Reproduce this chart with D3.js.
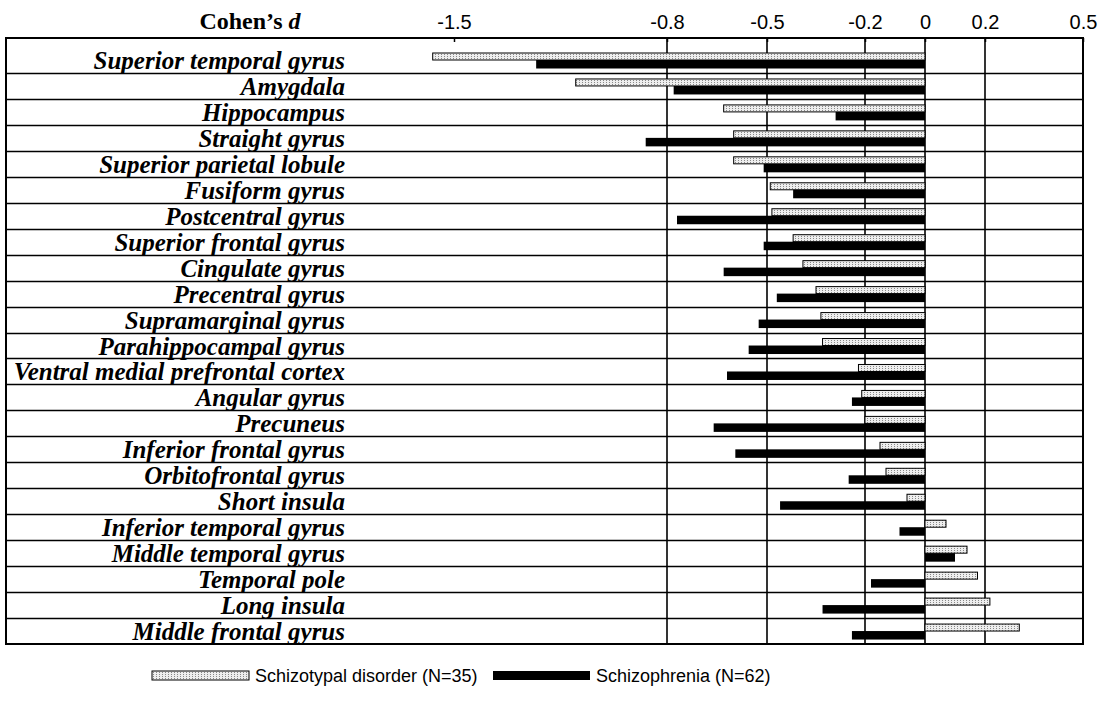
<!DOCTYPE html>
<html>
<head>
<meta charset="utf-8">
<script src="https://cdn.jsdelivr.net/npm/d3@7"></script>
<style>
  body { margin: 0; background: #fff; }
</style>
</head>
<body>
<div id="chart"></div>
<script>
// brain regions, top to bottom
const regions = [
  "Superior temporal gyrus", "Amygdala", "Hippocampus", "Straight gyrus",
  "Superior parietal lobule", "Fusiform gyrus", "Postcentral gyrus",
  "Superior frontal gyrus", "Cingulate gyrus", "Precentral gyrus",
  "Supramarginal gyrus", "Parahippocampal gyrus", "Ventral medial prefrontal cortex",
  "Angular gyrus", "Precuneus", "Inferior frontal gyrus", "Orbitofrontal gyrus",
  "Short insula", "Inferior temporal gyrus", "Middle temporal gyrus",
  "Temporal pole", "Long insula", "Middle frontal gyrus"
];

// Cohen's d per region
const schizotypal = [
  -1.57, -1.10, -0.63, -0.60, -0.60, -0.49, -0.485, -0.42, -0.39, -0.35, -0.335, -0.33,
  -0.22, -0.21, -0.20, -0.15, -0.13, -0.06, 0.07, 0.14, 0.175, 0.215, 0.305
];
const schizophrenia = [
  -1.23, -0.78, -0.29, -0.87, -0.51, -0.42, -0.77, -0.51, -0.63, -0.47, -0.525, -0.555,
  -0.62, -0.24, -0.66, -0.595, -0.25, -0.46, -0.085, 0.10, -0.18, -0.33, -0.24
];

const tickValues = [-1.5, -0.8, -0.5, -0.2, 0, 0.2, 0.5];
const tickLabels = ["-1.5", "-0.8", "-0.5", "-0.2", "0", "0.2", "0.5"];
const gridValues = [-0.8, -0.5, -0.2, 0, 0.2];
const seriesNames = ["Schizotypal disorder (N=35)", "Schizophrenia (N=62)"];

const width = 1113, height = 702;
const box = { left: 6, right: 1083, top: 38, bottom: 644 };
const serif = '"Liberation Serif", "Times New Roman", serif';
const sans = '"Liberation Sans", Arial, sans-serif';

const svg = d3.select('#chart').append('svg')
  .attr('width', width)
  .attr('height', height);

// light speckled fill for the schizotypal bars
const pat = svg.append('defs').append('pattern')
  .attr('id', 'speckle')
  .attr('width', 3).attr('height', 2)
  .attr('patternUnits', 'userSpaceOnUse');
pat.append('rect').attr('width', 3).attr('height', 2).attr('fill', '#eeeeee');
pat.append('rect').attr('width', 1).attr('height', 1).attr('fill', '#888');

// the printed axis is not evenly spaced, so the scale goes through each tick
const x = d3.scaleLinear()
  .domain(tickValues)
  .range([454, 667, 767, 865, 925, 985, 1083]);

const y = d3.scaleBand()
  .domain(regions)
  .range([47, box.bottom]);

// row separators
svg.append('g').selectAll('line')
  .data(regions.slice(1))
  .enter()
  .append('line')
  .attr('x1', box.left).attr('x2', box.right)
  .attr('y1', d => Math.round(y(d)) + 0.5)
  .attr('y2', d => Math.round(y(d)) + 0.5)
  .attr('stroke', '#000')
  .attr('stroke-width', 1.6);

// vertical grid lines
svg.append('g').selectAll('line')
  .data(gridValues)
  .enter()
  .append('line')
  .attr('x1', d => x(d)).attr('x2', d => x(d))
  .attr('y1', box.top).attr('y2', box.bottom)
  .attr('stroke', '#000')
  .attr('stroke-width', 1.6);

// bars
const rows = regions.map((r, i) => ({ name: r, a: schizotypal[i], b: schizophrenia[i] }));

svg.append('g').selectAll('rect')
  .data(rows)
  .enter()
  .append('rect')
  .attr('x', d => x(Math.min(0, d.a)))
  .attr('y', d => y(d.name) + 6)
  .attr('width', d => Math.abs(x(d.a) - x(0)))
  .attr('height', 7)
  .attr('fill', 'url(#speckle)')
  .attr('stroke', '#000')
  .attr('stroke-width', 1);

svg.append('g').selectAll('rect')
  .data(rows)
  .enter()
  .append('rect')
  .attr('x', d => x(Math.min(0, d.b)))
  .attr('y', d => y(d.name) + 13)
  .attr('width', d => Math.abs(x(d.b) - x(0)))
  .attr('height', 8.5)
  .attr('fill', '#000');

// outer box
svg.append('rect')
  .attr('x', box.left).attr('y', box.top)
  .attr('width', box.right - box.left)
  .attr('height', box.bottom - box.top)
  .attr('fill', 'none')
  .attr('stroke', '#000')
  .attr('stroke-width', 2);

// top axis
const xAxis = svg.append('g')
  .attr('transform', 'translate(0,' + box.top + ')')
  .call(d3.axisTop(x).tickValues(tickValues).tickSize(-4).tickPadding(9)
    .tickFormat((d, i) => tickLabels[i]));
xAxis.select('.domain').remove();
xAxis.selectAll('line').attr('stroke', '#000').attr('stroke-width', 1.5);
xAxis.selectAll('text')
  .attr('fill', '#000')
  .style('font-family', sans)
  .style('font-size', '20px');

// region labels
const yAxis = svg.append('g')
  .attr('transform', 'translate(350,0)')
  .call(d3.axisLeft(y).tickSize(0).tickPadding(5));
yAxis.select('.domain').remove();
yAxis.selectAll('text')
  .attr('fill', '#000')
  .attr('dy', '0.36em')
  .style('font-family', serif)
  .style('font-weight', 'bold')
  .style('font-style', 'italic')
  .style('font-size', '25px');

// axis title
const title = svg.append('text')
  .attr('x', 250).attr('y', 29)
  .attr('text-anchor', 'middle')
  .style('font-family', serif)
  .style('font-weight', 'bold')
  .style('font-size', '24px')
  .text('Cohen\u2019s ');
title.append('tspan').style('font-style', 'italic').text('d');

// legend
const legend = svg.append('g').attr('transform', 'translate(0,676)');
const legendX = [152, 493];
const legendW = [97, 97];
legend.selectAll('rect')
  .data(seriesNames)
  .enter()
  .append('rect')
  .attr('x', (d, i) => legendX[i])
  .attr('y', -5)
  .attr('width', (d, i) => legendW[i])
  .attr('height', 9)
  .attr('fill', (d, i) => i === 0 ? 'url(#speckle)' : '#000')
  .attr('stroke', (d, i) => i === 0 ? '#000' : 'none');
legend.selectAll('text')
  .data(seriesNames)
  .enter()
  .append('text')
  .attr('x', (d, i) => legendX[i] + legendW[i] + 6)
  .attr('y', 0)
  .attr('dy', '0.35em')
  .style('font-family', sans)
  .style('font-size', '18px')
  .text(d => d);
</script>
</body>
</html>
